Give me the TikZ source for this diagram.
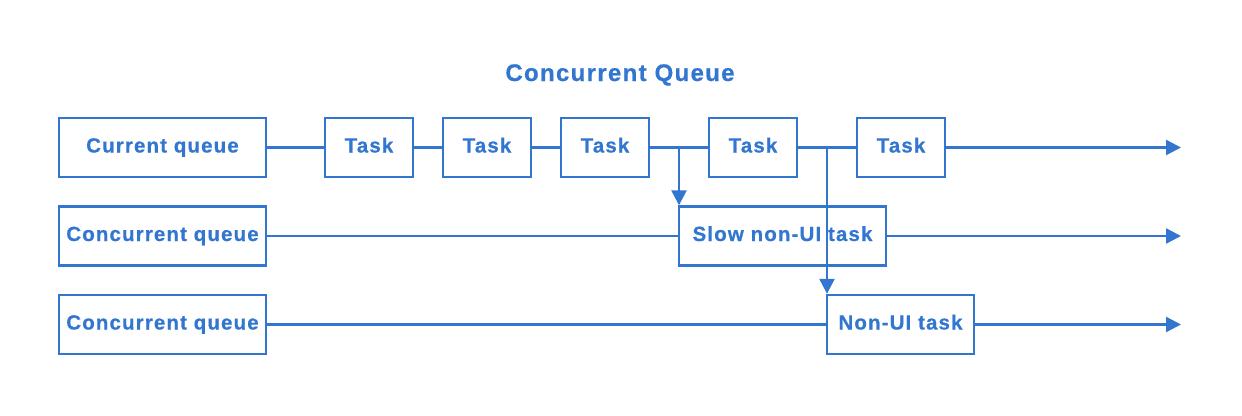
\documentclass[tikz,border=0pt]{standalone}
\usepackage{fontspec}
\setmainfont{Liberation Sans}
\newfontfamily\boxfont[LetterSpace=5.5,BoldFont={Liberation Sans Bold},BoldFeatures={FakeBold=0.6}]{Liberation Sans}
\usetikzlibrary{arrows.meta}
\definecolor{qblue}{RGB}{51,118,208}
\begin{document}
\begin{tikzpicture}[x=1pt,y=-1pt,
  box/.style={draw=qblue,line width=2.4pt,minimum height=59pt,inner sep=0pt,text=qblue,text height=14pt,text depth=4pt,font=\boxfont\bfseries\fontsize{20.5}{23}\selectfont},
  link/.style={draw=qblue,line width=2.4pt},
  arr/.style={link,-{Triangle[length=15pt,width=15pt]}}]
\useasboundingbox (0,0) rectangle (1242,415);
\node[text=qblue,text height=17pt,text depth=5pt,font=\boxfont\bfseries\fontsize{24}{27}\selectfont] (title) at (620,75) {Concurrent Queue};
\node[box,minimum width=207pt] (cq) at (162.5,147.5) {Current queue};
\node[box,minimum width=88pt] (t1) at (369,147.5) {Task};
\node[box,minimum width=88pt] (t2) at (487,147.5) {Task};
\node[box,minimum width=88pt] (t3) at (605,147.5) {Task};
\node[box,minimum width=88pt] (t4) at (753,147.5) {Task};
\node[box,minimum width=88pt] (t5) at (901,147.5) {Task};
\node[box,minimum width=207pt] (c2) at (162.5,236) {Concurrent queue};
\node[box,minimum width=207pt] (slow) at (782.5,236) {Slow non-UI task};
\node[box,minimum width=207pt] (c3) at (162.5,324.5) {Concurrent queue};
\node[box,minimum width=147pt] (nonui) at (900.5,324.5) {Non-UI task};
\coordinate (e1) at (1181,147.5);
\coordinate (e2) at (1181,236);
\coordinate (e3) at (1181,324.5);
\coordinate (b1) at (679,147.5);
\coordinate (b2) at (827,147.5);
\draw[link] (cq) -- (t1);
\draw[link] (t1) -- (t2);
\draw[link] (t2) -- (t3);
\draw[link] (t3) -- (t4);
\draw[link] (t4) -- (t5);
\draw[arr] (t5) -- (e1);
\draw[link] (c2) -- (slow);
\draw[arr] (slow) -- (e2);
\draw[link] (c3) -- (nonui);
\draw[arr] (nonui) -- (e3);
\draw[arr] (b1) -- (b1 |- slow.north);
\draw[arr] (b2) -- (b2 |- nonui.north);
\end{tikzpicture}
\end{document}
